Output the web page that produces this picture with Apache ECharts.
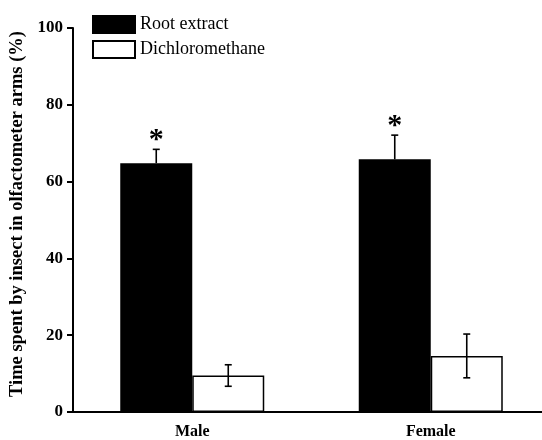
<!DOCTYPE html>
<html>
<head>
<meta charset="utf-8">
<script src="https://cdn.jsdelivr.net/npm/echarts@6/dist/echarts.min.js"></script>
<style>
  html, body { margin: 0; padding: 0; background: #fff; }
  #main { width: 542px; height: 440px; }
</style>
</head>
<body>
<div id="main"></div>
<script>
// categories and values
var categories = ['Male', 'Female'];
var rootExtract = [64.8, 65.8];
var rootErr = [3.6, 6.3];
var dichloro = [9.5, 14.6];
var dichloroErr = [2.8, 5.7];
var yTicks = [0, 20, 40, 60, 80, 100];

var serif = 'Liberation Serif';
var barW = 72;

// error bar drawn from the bar value, upper only for black bars
function errorItem(values, errs, side, upperOnly, star) {
    return function (params, api) {
        var i = api.value(0);
        var v = values[i], e = errs[i];
        var base = api.coord([i, v]);
        var x = base[0] + side * barW / 2;
        var top = api.coord([i, v + e])[1];
        var bot = upperOnly ? base[1] : api.coord([i, v - e])[1];
        var style = { stroke: '#000', lineWidth: 1.6 };
        var kids = [
            { type: 'line', shape: { x1: x, y1: top, x2: x, y2: bot }, style: style },
            { type: 'line', shape: { x1: x - 3.5, y1: top, x2: x + 3.5, y2: top }, style: style }
        ];
        if (!upperOnly) {
            kids.push({ type: 'line', shape: { x1: x - 3.5, y1: bot, x2: x + 3.5, y2: bot }, style: style });
        }
        if (star) {
            kids.push({
                type: 'text',
                style: {
                    text: '*', x: x, y: top + 6, align: 'center', verticalAlign: 'bottom',
                    font: 'bold 30px "' + serif + '"', fill: '#000'
                }
            });
        }
        return { type: 'group', children: kids };
    };
}

var chart = echarts.init(document.getElementById('main'));
chart.setOption({
    animation: false,
    backgroundColor: '#fff',
    grid: { left: 73, width: 477, top: 28, bottom: 28, outerBoundsMode: 'none' },
    legend: {
        orient: 'vertical',
        left: 87,
        top: 10,
        icon: 'rect',
        itemWidth: 42,
        itemHeight: 17,
        itemGap: 6,
        textStyle: { fontFamily: serif, fontSize: 18, color: '#000' },
        data: ['Root extract', 'Dichloromethane']
    },
    xAxis: {
        type: 'category',
        data: categories,
        axisLine: { lineStyle: { color: '#000', width: 2 } },
        axisTick: { alignWithLabel: true, length: 6, lineStyle: { color: '#000', width: 2 } },
        axisLabel: { color: '#000', fontFamily: serif, fontWeight: 'bold', fontSize: 16, margin: 12 }
    },
    yAxis: {
        type: 'value',
        min: 0,
        max: 100,
        interval: 20,
        name: 'Time spent by insect in olfactometer arms (%)',
        nameLocation: 'middle',
        nameGap: 38,
        nameTextStyle: { fontFamily: serif, fontWeight: 'bold', fontSize: 18.5, color: '#000', padding: [10, 0, 0, 12] },
        splitLine: { show: false },
        axisLine: { show: true, lineStyle: { color: '#000', width: 2 } },
        axisTick: { show: true, length: 6, lineStyle: { color: '#000', width: 2 } },
        axisLabel: {
            color: '#000', fontFamily: serif, fontWeight: 'bold', fontSize: 17, margin: 10,
            formatter: function (v) { return yTicks.indexOf(v) >= 0 ? String(v) : ''; }
        }
    },
    series: [
        {
            name: 'Root extract',
            type: 'bar',
            barWidth: barW,
            barGap: '0%',
            data: rootExtract,
            itemStyle: { color: '#000', borderColor: '#000', borderWidth: 1.5 }
        },
        {
            name: 'Dichloromethane',
            type: 'bar',
            barWidth: barW,
            barGap: '0%',
            data: dichloro,
            itemStyle: { color: '#fff', borderColor: '#000', borderWidth: 1.5 }
        },
        {
            type: 'custom',
            data: categories.map(function (c, i) { return [i]; }),
            renderItem: errorItem(rootExtract, rootErr, -1, true, true),
            z: 5
        },
        {
            type: 'custom',
            data: categories.map(function (c, i) { return [i]; }),
            renderItem: errorItem(dichloro, dichloroErr, 1, false, false),
            z: 5
        }
    ]
});
</script>
</body>
</html>
